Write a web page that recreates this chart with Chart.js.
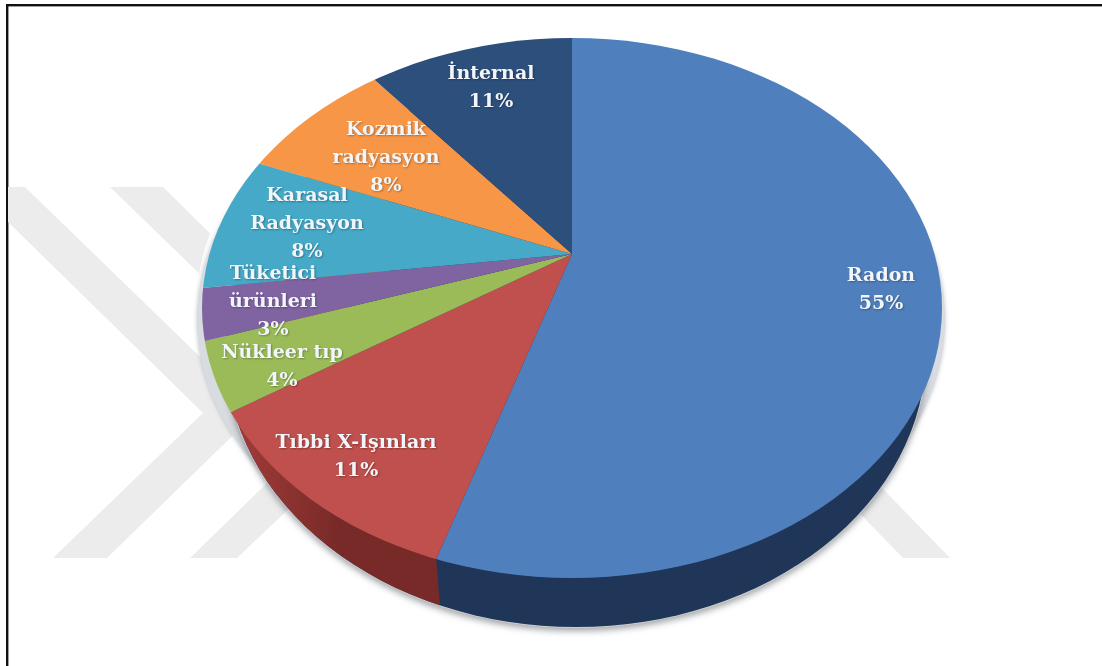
<!DOCTYPE html>
<html>
<head>
<meta charset="utf-8">
<style>
html,body{margin:0;padding:0;background:#fff;overflow:hidden}
canvas{display:block;filter:blur(0.45px)}
</style>
<script src="https://cdn.jsdelivr.net/npm/chart.js@4"></script>
</head>
<body>
<canvas id="c" width="1102" height="666"></canvas>
<script>
const categories = ["Radon","Tıbbi X-Işınları","Nükleer tıp","Tüketici ürünleri","Karasal Radyasyon","Kozmik radyasyon","İnternal"];
const values = [55,11,4,3,8,8,11];
const labelLines = [["Radon"],["Tıbbi X-Işınları"],["Nükleer tıp"],["Tüketici","ürünleri"],["Karasal","Radyasyon"],["Kozmik","radyasyon"],["İnternal"]];
const colors = ["#4f80bd","#c0504d","#9bbb59","#8064a2","#45a9c7","#f79646","#2d4f7c"];
const sideColors = ["#1f3658","#772a28","#5f7a30","#4f3b6b","#2a6f85","#a8601f","#1a3050"];
const labelCentres = [[881,276],[356,443],[282,353],[273,274],[307,196],[386,130],[491,74]];
const LINE = 28;

const apex = {x:572,y:254};
const top3d = {x:572,y:308,rx:370,ry:270};
const low3d = {x:576,y:352,rx:350,ry:275};
const wallDir = {x:16,y:196};
const SX = 1.507, SY = 1.1;

function ell(ctx,e,grow){ctx.beginPath();ctx.ellipse(e.x,e.y,e.rx+(grow||0),e.ry+(grow||0),0,0,Math.PI*2);}
function poly(ctx,p){ctx.beginPath();p.forEach((q,i)=>i?ctx.lineTo(q[0],q[1]):ctx.moveTo(q[0],q[1]));ctx.closePath();ctx.fill();}
// where a slice edge at canvas angle th meets the rim of the top face
function rim(th){
  const dx=SX*Math.cos(th), dy=SY*Math.sin(th);
  const ox=(apex.x-top3d.x)/top3d.rx, oy=(apex.y-top3d.y)/top3d.ry;
  const ux=dx/top3d.rx, uy=dy/top3d.ry;
  const a=ux*ux+uy*uy, b=2*(ox*ux+oy*uy), c=ox*ox+oy*oy-1;
  const s=(-b+Math.sqrt(b*b-4*a*c))/(2*a);
  return [apex.x+s*dx,apex.y+s*dy];
}

const pie3d = {
  id:'pie3d',
  beforeDatasetsDraw(chart){
    const ctx = chart.ctx;
    // frame
    ctx.save();
    ctx.fillStyle='#111';
    ctx.fillRect(6,4,1096,2.4);
    ctx.fillRect(6,4,2.4,662);
    // watermark
    ctx.fillStyle='#ececec';
    poly(ctx,[[8,187],[25,187],[257,412],[107,558],[53,558],[203,413],[8,222]]);
    poly(ctx,[[110,187],[163,187],[391,412],[237,558],[190,558],[341,411]]);
    poly(ctx,[[950,558],[903,558],[803,455],[850,455]]);
    // halo and shadow
    ctx.save();
    ctx.fillStyle='rgba(255,255,255,0.9)';
    ell(ctx,top3d,6);ctx.fill();
    ctx.save();
    ctx.shadowColor='rgba(150,155,165,0.6)';
    ctx.shadowBlur=4;
    ctx.fillStyle='#d8dbdf';
    ell(ctx,{x:571,y:320,rx:374,ry:270});ctx.fill();
    ctx.restore();
    ctx.shadowColor='rgba(70,75,85,0.5)';
    ctx.shadowBlur=6;
    ctx.shadowOffsetY=3;
    ctx.fillStyle='#ccc';
    ell(ctx,low3d,1);ctx.fill();
    ctx.restore();
    // side wall, from the same arc angles
    const arcs = chart.getDatasetMeta(0).data;
    ctx.save();
    ell(ctx,low3d);ctx.clip();
    ctx.fillStyle=sideColors[0];
    ctx.fillRect(0,0,1102,666);
    for(let i=arcs.length-1;i>0;i--){
      const a=arcs[i];
      const p=rim(a.startAngle), q=rim(a.endAngle);
      if(i===1){
        const g=ctx.createLinearGradient(225,0,340,0);
        g.addColorStop(0,'#a53d3a');g.addColorStop(1,sideColors[1]);
        ctx.fillStyle=g;
      } else ctx.fillStyle=sideColors[i];
      poly(ctx,[p,[p[0]+wallDir.x,p[1]+wallDir.y],[q[0]+wallDir.x,q[1]+wallDir.y],q]);
    }
    ctx.restore();
    ctx.restore();
    // top face: library arcs seen through an elliptical clip
    const a0 = arcs[0];
    ctx.save();
    ell(ctx,top3d);ctx.clip();
    ctx.translate(apex.x,apex.y);
    ctx.scale(SX,SY);
    ctx.translate(-a0.x,-a0.y);
  },
  afterDatasetsDraw(chart){
    const ctx = chart.ctx;
    ctx.restore();
    ctx.save();
    ctx.font='bold 19px "DejaVu Serif"';
    ctx.textAlign='center';
    ctx.textBaseline='middle';
    ctx.fillStyle='#f2f6fa';
    ctx.shadowColor='rgba(0,0,0,0.3)';
    ctx.shadowBlur=2;
    ctx.shadowOffsetX=1;
    ctx.shadowOffsetY=1;
    categories.forEach((name,i)=>{
      const lines=[...labelLines[i],values[i]+'%'];
      const [x,y]=labelCentres[i];
      lines.forEach((t,j)=>ctx.fillText(t,x,y+j*LINE));
    });
    ctx.restore();
  }
};

new Chart(document.getElementById('c'),{
  type:'pie',
  data:{labels:categories,datasets:[{data:values,backgroundColor:colors,borderWidth:0}]},
  options:{
    responsive:false,
    animation:false,
    layout:{padding:0},
    plugins:{legend:{display:false},tooltip:{enabled:false}}
  },
  plugins:[pie3d]
});
</script>
</body>
</html>
